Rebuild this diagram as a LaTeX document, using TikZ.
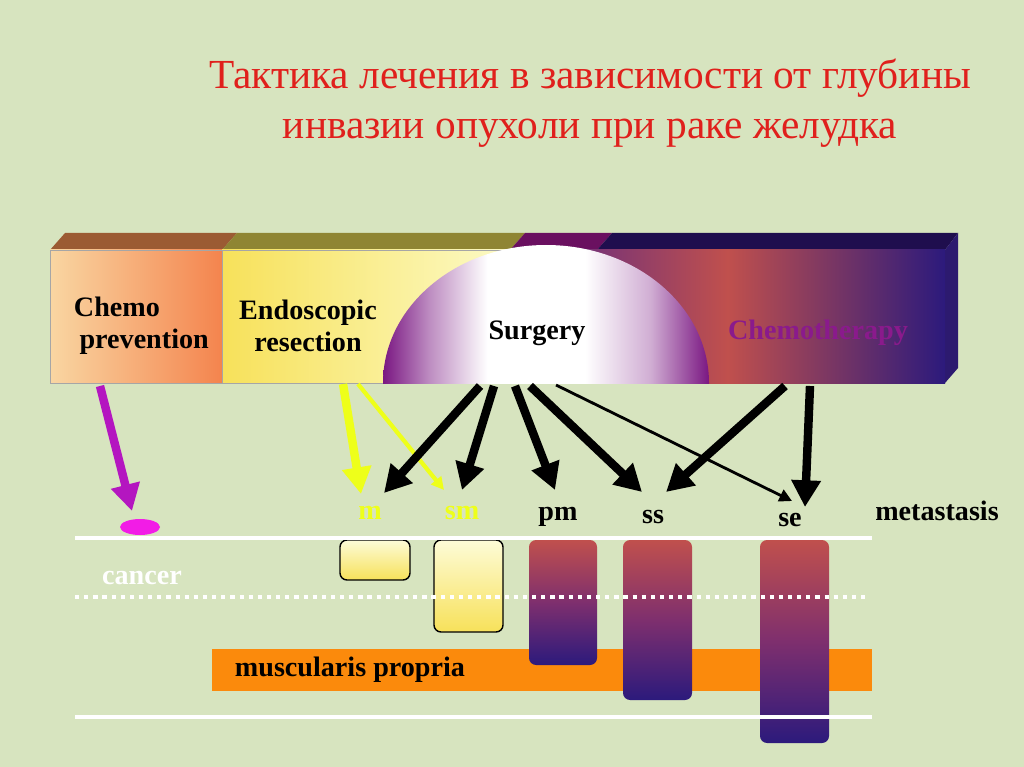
\documentclass[tikz,border=0pt]{standalone}
\usepackage{fontspec}
\setmainfont{Liberation Serif}
\usepackage{xcolor}
\usepackage{tikz}
\usetikzlibrary{arrows.meta}

\definecolor{bgreen}{HTML}{D7E4BF}
\definecolor{titlered}{HTML}{E0201C}
\definecolor{peach}{HTML}{F9D6A2}
\definecolor{carrot}{HTML}{F4844E}
\definecolor{lemon}{HTML}{F7E15A}
\definecolor{cream}{HTML}{FCFAC6}
\definecolor{brickred}{HTML}{C0504D}
\definecolor{indigo}{HTML}{2C1A7C}
\definecolor{plum}{HTML}{7E2F6E}
\definecolor{dompurple}{HTML}{7A1782}
\definecolor{chemopurple}{HTML}{8A1A8C}
\definecolor{magentaarrow}{HTML}{B416C0}
\definecolor{blob}{HTML}{F21CE6}
\definecolor{yellowarrow}{HTML}{EEFF1A}
\definecolor{bandorange}{HTML}{FB8A0C}

\pgfdeclarehorizontalshading{domeshade}{100bp}{color(0bp)=(dompurple); color(25bp)=(dompurple);
  color(32bp)=(dompurple!50!white); color(41bp)=(white); color(56bp)=(white);
  color(66bp)=(dompurple!35!white); color(75bp)=(dompurple); color(100bp)=(dompurple)}

\tikzset{
  lbl/.style={font=\fontsize{20}{23}\selectfont\bfseries},
  bigarrow/.style={line width=6pt,-{Triangle[length=19pt,width=20pt]}},
  thinarrow/.style={line width=2pt,-{Triangle[length=9pt,width=9pt]}},
  mucosa/.style={draw=black,line width=1pt,rounded corners=5pt,top color=cream!70!white,bottom color=lemon},
  tumour/.style={rounded corners=5pt,top color=brickred,bottom color=indigo,middle color=plum},
  layer/.style={white,line width=3pt}
}

\begin{document}
\begin{tikzpicture}[x=0.025cm,y=-0.025cm]
\fill[bgreen] (0,0) rectangle (1024,767);
\node[titlered,font=\fontsize{29.4}{36}\selectfont,align=center] (title) at (590,103)
  {Тактика лечения в зависимости от глубины\\инвазии опухоли при раке желудка};

% top of the 3d bar
\fill[fill={rgb,255:red,155;green,91;blue,51}] (50,250) -- (65,233) -- (237,233) -- (222,250) -- cycle;
\fill[fill={rgb,255:red,143;green,133;blue,51}] (222,250) -- (237,233) -- (525,233) -- (510,250) -- cycle;
\fill[fill={rgb,255:red,106;green,16;blue,96}] (510,250) -- (525,233) -- (612,233) -- (597,250) -- cycle;
\fill[fill={rgb,255:red,31;green,14;blue,78}] (597,250) -- (612,233) -- (958,233) -- (945,250) -- cycle;
\fill[fill={rgb,255:red,44;green,26;blue,111}] (945,250) -- (958,233) -- (958,368) -- (945,383) -- cycle;

% front faces
\shade[left color=peach,right color=carrot] (50,250) rectangle (222,383);
\shade[left color=lemon,right color=cream] (222,250) rectangle (510,383);
\shade[left color={rgb,255:red,80;green,36;blue,140},right color=indigo,middle color=brickred] (510,250) rectangle (945,383);
\draw[black!35,line width=0.5pt] (50,250) rectangle (222,383) (222,250) rectangle (510,383);

\begin{scope}
\clip (380,200) rectangle (715,383);
\shade[shading=domeshade] (546,383) ellipse [x radius=163, y radius=138];
\end{scope}

\node[lbl,align=left,anchor=west] (chemoprev) at (69,326) {Chemo\\\hspace*{4pt}prevention};
\node[lbl,align=center] (endo) at (308,326) {Endoscopic\\resection};
\node[lbl] (surgery) at (537,333) {Surgery};
\node[lbl,chemopurple] (chemo) at (818,333) {Chemotherapy};

% starts of the arrows
\coordinate (cp) at (100,386);
\coordinate (er1) at (343,384);
\coordinate (er2) at (358,384);
\coordinate (su1) at (480,386);
\coordinate (su2) at (494,386);
\coordinate (su3) at (515,386);
\coordinate (su4) at (530,386);
\coordinate (su5) at (556,385);
\coordinate (ch1) at (785,386);
\coordinate (ch2) at (810,386);

% ends of the arrows
\coordinate (cptip) at (132,511);
\coordinate (mtipa) at (361,494);
\coordinate (smtipa) at (444,490);
\coordinate (mtipb) at (384,493);
\coordinate (smtip) at (462,490);
\coordinate (pmtip) at (555,490);
\coordinate (sstipa) at (642,492);
\coordinate (sstipb) at (666,492);
\coordinate (setipa) at (792,501);
\coordinate (setip) at (805,507);

\node[lbl,yellowarrow] (m) at (370,513) {m};
\node[lbl,yellowarrow] (sm) at (462,513) {sm};
\node[lbl] (pm) at (558,517) {pm};
\node[lbl] (ss) at (653,517) {ss};
\node[lbl] (se) at (790,520) {se};
\node[lbl] (meta) at (937,511) {metastasis};

\draw[bigarrow,magentaarrow] (cp) -- (cptip);
\draw[bigarrow,yellowarrow] (er1) -- (mtipa);
\draw[yellowarrow,line width=3pt,-{Triangle[length=9pt,width=9pt]}] (er2) -- (smtipa);
\draw[bigarrow] (su1) -- (mtipb);
\draw[bigarrow] (su2) -- (smtip);
\draw[bigarrow] (su3) -- (pmtip);
\draw[bigarrow] (su4) -- (sstipa);
\draw[thinarrow] (su5) -- (setipa);
\draw[bigarrow] (ch1) -- (sstipb);
\draw[bigarrow] (ch2) -- (setip);

\fill[blob] (140,527) ellipse [x radius=20, y radius=8];

% wall of the stomach
\fill[bandorange] (212,649) rectangle (872,691);
\node[lbl,anchor=west] (mp) at (230,670) {muscularis propria};
\path[mucosa] (340,540) rectangle (410,580);
\path[mucosa] (434,540) rectangle (503,632);
\path[tumour] (529,540) rectangle (597,665);
\path[tumour] (623,540) rectangle (692,700);
\path[tumour] (760,540) rectangle (829,743);
\draw[layer] (75,538) -- (872,538);
\draw[layer,dash pattern=on 3pt off 3.5pt] (75,597) -- (868,597);
\draw[layer] (75,717) -- (872,717);
\node[lbl,white] (cancer) at (142,578) {cancer};
\end{tikzpicture}
\end{document}
